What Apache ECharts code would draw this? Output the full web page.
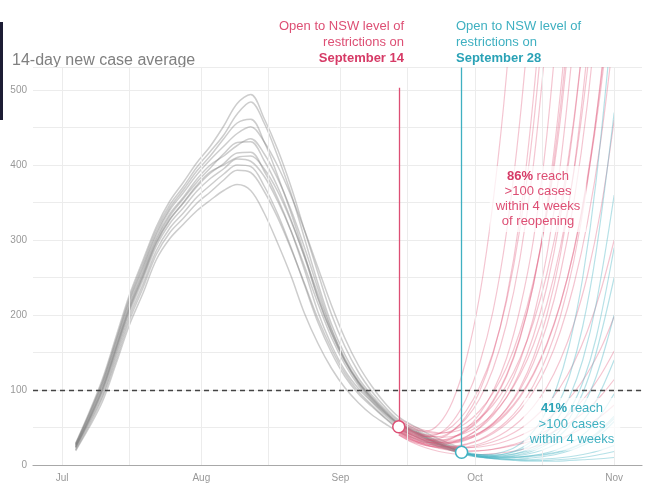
<!DOCTYPE html>
<html>
<head>
<meta charset="utf-8">
<script src="https://cdn.jsdelivr.net/npm/echarts@6/dist/echarts.min.js"></script>
<style>html,body{margin:0;padding:0;background:#fff}#c{width:650px;height:488px}</style>
</head>
<body>
<div id="c"></div>
<script>
// ---- axis labels ----
const monthDays = [0, 31, 62, 92, 123];           // days since 1 Jul
const monthNames = ['Jul', 'Aug', 'Sep', 'Oct', 'Nov'];
const gridDays = [0, 15, 31, 46, 62, 77, 92, 107, 123];
const threshold = 100;

// ---- reopening markers ----
const reopenDays = [75, 89];        // Sep 14, Sep 28
const reopenValues = [51, 17];
const reopenTops = [503, 530];

// ---- lockdown trajectories (grey) ----
const grayDays = [3,6,9,12,15,18,21,24,27,30,33,36,39,42,45,48,51,54,57,60,63,66,69,72,75,79,83,87,89];
const grayRuns = [
  [29,70,115,171,227,273,318,352,377,403,425,452,482,494,462,421,371,313,256,201,158,124,98,77,60,47,34,25,20],
  [28,68,112,167,223,269,314,347,371,397,418,440,468,484,456,412,362,302,242,188,147,116,93,74,58,45,33,24,20],
  [27,67,110,165,220,265,310,343,367,392,412,435,456,461,431,386,336,281,223,176,138,109,87,69,54,42,30,22,18],
  [27,65,108,162,217,262,307,340,363,387,407,425,442,451,431,399,359,313,263,213,169,133,105,82,64,50,37,27,22],
  [26,63,105,158,213,258,303,335,357,381,400,412,426,435,415,382,340,290,235,182,140,110,88,70,55,43,31,22,18],
  [25,62,103,157,211,255,300,332,355,377,396,415,430,431,406,371,327,277,222,176,139,111,90,72,56,44,32,23,19],
  [24,60,101,154,208,252,297,328,350,373,391,400,410,412,395,365,325,278,228,180,142,112,90,71,55,43,31,22,18],
  [24,60,100,153,207,251,296,327,349,371,389,402,416,417,392,356,312,260,204,160,126,102,84,66,51,40,29,21,17],
  [23,58,97,149,203,247,292,322,343,365,382,395,408,405,385,352,312,265,215,170,134,106,85,68,53,41,30,21,17],
  [22,56,93,145,198,241,286,316,336,357,373,388,400,398,372,335,290,240,190,150,118,95,78,62,48,37,27,19,15],
  [20,53,90,140,193,236,281,310,329,349,364,380,393,390,365,330,288,242,195,155,122,98,80,63,49,38,28,20,16],
  [19,50,85,135,187,229,274,302,321,339,353,366,374,366,336,296,252,202,162,129,103,83,67,55,44,34,26,19,16]
];

// ---- reopen Sep 14 (pink) ----
const pinkDays = [75,78,81,84,87,90,93,96,99,102,105,108,111,114,117,120,123];
const pinkRuns = [
  [58,48,45,55,85,140,225,350,520,760],
  [52,42,38,42,58,88,135,205,310,460,660],
  [48,38,33,35,45,65,98,148,222,330,490,700],
  [55,44,38,38,46,62,88,128,188,275,400,580],
  [45,35,30,30,36,48,68,98,142,208,300,440,640],
  [50,40,34,32,36,45,60,84,118,168,240,345,495,700],
  [42,33,28,27,30,37,50,70,98,138,196,280,400,570],
  [60,50,44,42,46,56,72,96,130,178,245,335,460,640],
  [47,37,31,28,29,33,42,55,75,103,143,200,280,392,550],
  [53,42,35,31,31,35,43,56,74,100,136,186,255,350,480,660],
  [44,34,28,25,25,28,34,44,58,78,106,145,198,272,375,515,700],
  [40,31,26,23,22,24,28,35,45,59,78,104,140,188,252,340,460],
  [56,45,38,34,33,36,43,54,70,92,122,162,215,285,378,500,660],
  [46,36,29,25,23,23,26,31,38,48,62,80,104,136,178,232,300],
  [50,40,32,27,24,23,24,27,32,39,48,60,76,96,122,155,198],
  [43,33,27,23,20,19,19,21,24,28,33,40,49,60,74,92,114],
  [62,52,46,43,44,50,62,80,106,142,190,255,342,460,620],
  [49,39,33,30,30,34,41,52,68,90,120,160,214,286,382,510,680],
  [40,30,23,18,15,14,14,15,17,20,24,29,35,43,53,65,80],
  [45,34,27,22,19,18,19,21,25,30,37,46,58,74,94,120,152],
  [54,44,40,42,52,72,104,150,218,315,452,650],
  [51,41,35,33,37,46,62,86,120,170,240,338,475,660],
  [46,37,31,29,31,38,49,66,90,124,172,238,330,455,620],
  [57,46,40,37,38,43,53,68,90,120,160,215,290,390,525,700],
  [41,32,26,24,24,27,33,42,55,73,98,132,178,240,322,432,580]
];

// ---- reopen Sep 28 (teal) ----
const tealDays = [89,92,95,98,101,104,107,110,113,116,119,123];
const tealRuns = [
  [17,14,14,17,24,38,62,100,160,250,380,620],
  [17,13,12,14,19,29,46,74,118,185,285,470],
  [18,14,13,14,18,25,38,58,90,140,215,360],
  [16,12,11,12,15,21,31,47,72,110,170,290],
  [17,13,11,11,13,17,24,35,52,78,118,200],
  [15,11,10,10,12,15,20,28,40,58,86,140],
  [17,12,10,9,10,12,15,20,28,40,58,95],
  [16,12,9,8,8,9,11,14,19,26,36,58],
  [18,14,12,11,11,12,14,17,22,30,42,65],
  [15,11,9,8,7,7,8,9,11,14,18,26],
  [17,13,10,8,7,6,6,7,8,10,13,18],
  [16,12,9,7,6,5,5,5,6,7,8,10],
  [18,15,13,13,15,19,27,40,62,96,150,250],
  [17,13,11,10,10,11,13,16,21,29,40,62]
];

const PINK = '#dd4f74', TEAL = '#3fb0c1', GRAY = '#7c7c7c';
const PINK_B = '#d63a66', TEAL_B = '#2aa2b6';
const FONT = 'Liberation Sans, Arial, sans-serif';

function runSeries(days, runs, color, opacity, width, z) {
  return runs.map(run => ({
    type: 'line', smooth: 0.35, showSymbol: false, silent: true, z: z,
    data: run.map((v, i) => [days[i], v]),
    lineStyle: { color: color, opacity: opacity, width: width }
  }));
}

const chart = echarts.init(document.getElementById('c'), null, { renderer: 'canvas' });

const series = [];
// vertical grid lines
series.push({
  type: 'line', data: [[0, 0]], showSymbol: false, silent: true, z: 1,
  lineStyle: { width: 0 },
  markLine: {
    silent: true, symbol: 'none', label: { show: false },
    lineStyle: { color: '#ececec', width: 1, type: 'solid' },
    data: gridDays.map(d => ({ xAxis: d }))
  }
});
series.push(...runSeries(grayDays, grayRuns, GRAY, 0.38, 1.5, 2));
series.push(...runSeries(pinkDays, pinkRuns, PINK, 0.33, 1.2, 3));
series.push(...runSeries(tealDays, tealRuns, TEAL, 0.38, 1.2, 4));
// threshold dashed line
series.push({
  type: 'line', data: [[0, 0]], showSymbol: false, silent: true, z: 6,
  lineStyle: { width: 0 },
  markLine: {
    silent: true, symbol: 'none', label: { show: false },
    lineStyle: { color: '#444', width: 1.3, type: [5, 4] },
    data: [{ yAxis: threshold }]
  }
});
// reopening markers
const markerColors = [PINK, TEAL];
reopenDays.forEach((d, i) => {
  series.push({
    type: 'scatter', silent: true, z: 8,
    data: [[d, reopenValues[i]]],
    symbolSize: 12,
    itemStyle: { color: '#fff', borderColor: markerColors[i], borderWidth: 1.5, opacity: 1 },
    markLine: {
      silent: true, symbol: 'none', label: { show: false },
      lineStyle: { color: markerColors[i], width: 1.3, type: 'solid' },
      data: [[{ coord: [d, reopenValues[i]] }, { coord: [d, reopenTops[i]] }]]
    }
  });
});

function bold(color) {
  return { b: { fontWeight: 'bold', fontSize: 13, fontFamily: FONT, fill: color } };
}

chart.setOption({
  animation: false,
  backgroundColor: '#fff',
  grid: { left: 33, right: 8, top: 67.5, bottom: 23 },
  xAxis: {
    type: 'value', min: -6.5, max: 129.2,
    splitLine: { show: false },
    axisTick: { show: false },
    axisLine: { lineStyle: { color: '#a8a8a8', width: 1.2 } },
    axisLabel: {
      customValues: monthDays,
      formatter: v => monthNames[monthDays.indexOf(Math.round(v))] || '',
      color: '#999', fontSize: 10, margin: 8, fontFamily: FONT
    }
  },
  yAxis: {
    type: 'value', min: 0, max: 530, interval: 50,
    axisLine: { show: false }, axisTick: { show: false },
    splitLine: { lineStyle: { color: '#ececec' } },
    axisLabel: {
      formatter: v => (v % 100 === 0 ? String(v) : ''),
      color: '#999', fontSize: 10, margin: 6, fontFamily: FONT
    }
  },
  graphic: [
    { type: 'rect', left: 0, top: 22, shape: { width: 3, height: 98 }, style: { fill: '#1c1c34' } },
    { type: 'text', left: 12, top: 53, style: { text: '14-day new case average', fill: '#808080', fontSize: 16, fontFamily: FONT } },
    { type: 'text', z: 20, style: {
        x: 404, y: 18, align: 'right', verticalAlign: 'top',
        text: 'Open to NSW level of\nrestrictions on\n{b|September 14}',
        fill: PINK, fontSize: 13, fontFamily: FONT, lineHeight: 16,
        rich: bold(PINK_B)
    } },
    { type: 'text', z: 20, style: {
        x: 456, y: 18, align: 'left', verticalAlign: 'top',
        text: 'Open to NSW level of\nrestrictions on\n{b|September 28}',
        fill: TEAL, fontSize: 13, fontFamily: FONT, lineHeight: 16,
        rich: bold(TEAL_B)
    } },
    { type: 'text', z: 20, style: {
        x: 538, y: 166, align: 'center', verticalAlign: 'top',
        text: '{b|86%} reach\n>100 cases\nwithin 4 weeks\nof reopening',
        fill: PINK, fontSize: 13, fontFamily: FONT, lineHeight: 15,
        backgroundColor: 'rgba(255,255,255,0.72)', padding: [3, 6],
        rich: bold(PINK_B)
    } },
    { type: 'text', z: 20, style: {
        x: 572, y: 398, align: 'center', verticalAlign: 'top',
        text: '{b|41%} reach\n>100 cases\nwithin 4 weeks',
        fill: TEAL, fontSize: 13, fontFamily: FONT, lineHeight: 15.5,
        backgroundColor: 'rgba(255,255,255,0.72)', padding: [3, 6],
        rich: bold(TEAL_B)
    } }
  ],
  series: series
});
</script>
</body>
</html>
